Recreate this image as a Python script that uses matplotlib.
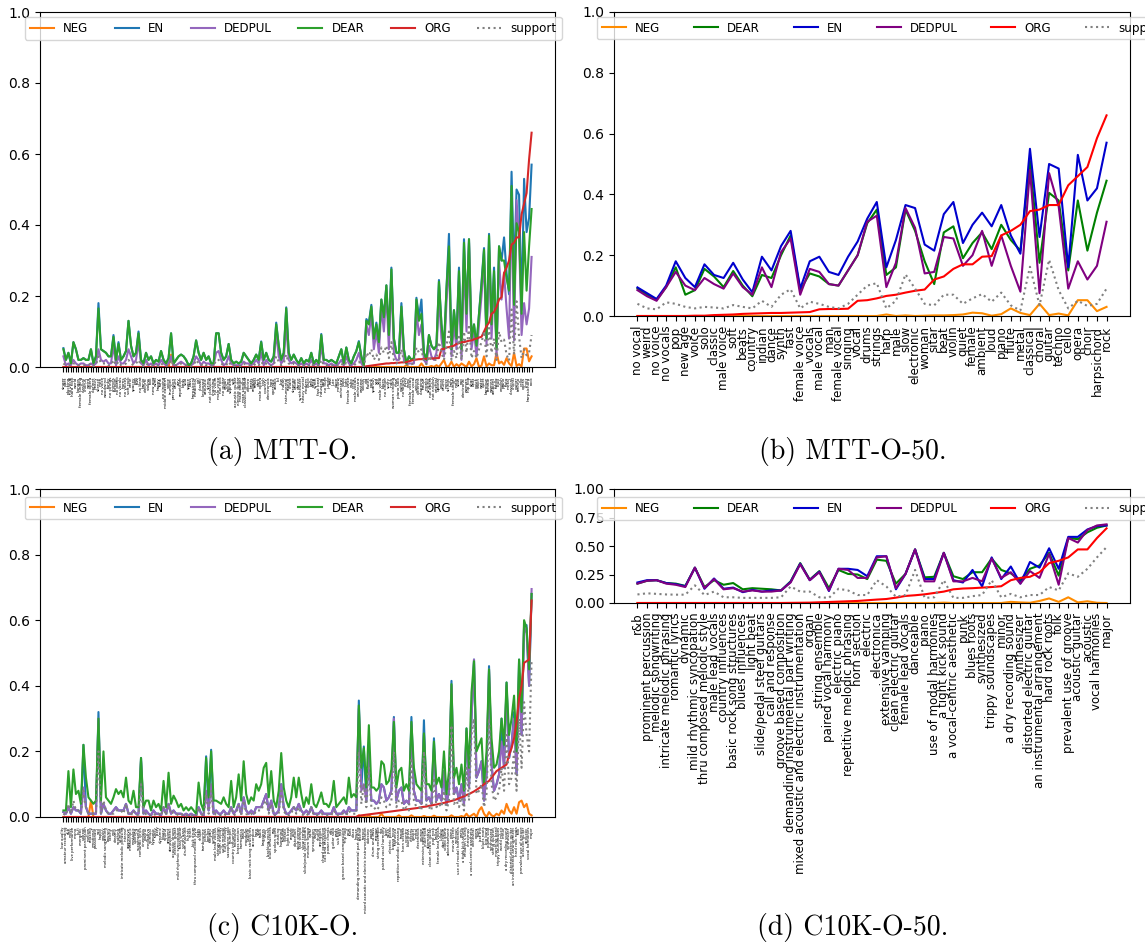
import matplotlib
matplotlib.use("Agg")
import matplotlib.pyplot as plt
import numpy as np

# ---------------------------------------------------------------- MTT-O (188 tags, sorted by ORG)
MTT_TAGS = [
    "singer", "duet", "plucking", "no vocal", "hard rock", "world", "bongos", "female singing", "clasical", "chorus",
    "weird", "female opera", "clarinet", "heavy", "silence", "men", "no voice", "woodwind", "funky", "no strings",
    "chimes", "foreign", "no piano", "no vocals", "horns", "no voices", "soft rock", "eerie", "spacey", "pop",
    "jazz", "no beat", "banjo", "electric", "violins", "folk", "new age", "wind", "happy", "funk",
    "no singing", "middle eastern", "voice", "trumpet", "percussion", "drum", "airy", "repetitive", "birds", "solo",
    "space", "bass", "harpsicord", "medieval", "girl", "classic", "keyboard", "acoustic", "string", "not classical",
    "chanting", "no violin", "male voice", "not rock", "no guitar", "organ", "talking", "soprano", "soft", "acoustic guitar",
    "electric guitar", "male singer", "man singing", "classical guitar", "electro", "beats", "reggae", "tribal", "dark", "male opera",
    "irish", "country", "electronica", "horn", "operatic", "arabic", "lol", "low", "indian", "instrumental",
    "trance", "chant", "strange", "drone", "dance", "synthesizer", "heavy metal", "modern", "disco", "bells",
    "deep", "synth", "fast beat", "industrial", "hard", "no flute", "jungle", "fast", "lute", "oboe",
    "mellow", "orchestral", "viola", "light", "female voice", "echo", "celtic", "male vocals", "orchestra", "eastern",
    "vocals", "old", "flutes", "punk", "spanish", "sad", "sax", "male vocal", "blues", "no singer",
    "scary", "india", "woman singing", "man", "piano solo", "guitars", "no drums", "jazzy", "calm", "female vocals",
    "female vocal", "voices", "different", "clapping", "house", "monks", "singing", "not opera", "not english", "oriental",
    "upbeat", "vocal", "drums", "noise", "strings", "harp", "female singer", "male", "slow", "rap",
    "electronic", "woman", "hip hop", "sitar", "beat", "quick", "violin", "water", "quiet", "baroque",
    "female", "women", "ambient", "fiddle", "loud", "english", "piano", "flute", "metal", "classical",
    "choral", "guitar", "techno", "cello", "opera", "choir", "harpsichord", "rock",
]

MTT_NEG = [
    0, 0, 0, 0, 0, 0, 0, 0, 0, 0,
    0, 0, 0, 0, 0, 0, 0, 0, 0, 0,
    0, 0, 0, 0, 0, 0, 0, 0, 0, 0,
    0, 0, 0, 0, 0, 0, 0, 0, 0, 0,
    0, 0, 0, .035, 0, 0, 0, 0, 0, 0,
    0, 0, 0, 0, 0, 0, 0, 0, 0, 0,
    0, 0, 0, 0, 0, 0, 0, 0, 0, 0,
    0, 0, 0, 0, 0, 0, 0, 0, 0, 0,
    0, 0, 0, 0, 0, 0, 0, 0, 0, 0,
    0, 0, 0, 0, 0, 0, 0, 0, 0, 0,
    0, 0, 0, 0, 0, 0, 0, 0, 0, 0,
    0, 0, 0, 0, 0, 0, 0, 0, 0, 0,
    0, 0, 0, 0, 0, 0, 0, 0, 0, 0,
    0, 0, 0, 0, 0, 0, 0, .005, 0, 0,
    0, 0, 0, .01, 0, 0, 0, .003, 0, .005,
    0, .01, .02, 0, .003, .015, 0, .008, .002, .01,
    .005, 0, .015, .002, .008, .025, 0, .004, .03, .002,
    .01, .005, .005, .04, .01, .015, .006, .025, .01, .003,
    .04, .003, .008, .002, .052, .052, .016, .03,
]
MTT_EN = [
    .053, .02, .04, .01, .07, .05, .02, .02, .025, .02,
    .02, .05, .01, .03, .18, .05, .045, .04, .03, .03,
    .09, .02, .07, .02, .03, .045, .13, .06, .03, .04,
    .10, .02, .01, .04, .02, .03, .01, .02, .015, .045,
    .02, .01, .025, .095, .01, .02, .03, .035, .03, .02,
    .005, .01, .03, .075, .04, .02, .04, .02, .03, .01,
    .01, .095, .095, .04, .02, .03, .065, .02, .01, .015,
    .01, .015, .04, .03, .02, .01, .02, .035, .02, .072,
    .02, .04, .02, .015, .03, .125, .06, .02, .04, .168,
    .04, .02, .035, .02, .01, .025, .01, .02, .015, .04,
    .01, .02, .01, .093, .02, .02, .015, .02, .015, .01,
    .03, .05, .01, .055, .02, .01, .03, .045, .073, .03,
    .005, .135, .125, .175, .08, .125, .07, .19, .145, .23,
    .09, .28, .08, .04, .04, .18, .05, .01, .03, .02,
    .025, .195, .14, .19, .04, .02, .09, .06, .05, .06,
    .245, .12, .05, .22, .375, .05, .16, .08, .28, .05,
    .36, .15, .36, .08, .12, .06, .15, .24, .335, .08,
    .375, .12, .28, .05, .34, .30, .365, .265, .205, .55,
    .26, .50, .485, .16, .53, .38, .42, .57,
]
MTT_DEDPUL = [
    .03, .005, .01, .005, .02, .01, .005, .01, .01, .005,
    .005, .01, .005, .01, .05, .02, .015, .02, .01, .01,
    .06, .005, .03, .01, .01, .02, .05, .03, .01, .02,
    .07, .01, .005, .02, .005, .01, .005, .01, .005, .02,
    .01, .005, .01, .03, .005, .005, .01, .015, .01, .005,
    0, .005, .01, .03, .02, .005, .015, .01, .01, .005,
    .005, .04, .045, .02, .005, .01, .03, .01, .005, .005,
    .005, .005, .015, .01, .01, .005, .01, .02, .01, .04,
    .005, .02, .01, .005, .01, .10, .03, .01, .02, .12,
    .02, .01, .015, .01, .005, .01, .005, .01, .005, .02,
    .005, .01, .005, .06, .01, .01, .005, .01, .005, .005,
    .01, .02, .005, .03, .01, .005, .01, .02, .04, .01,
    0, .12, .09, .15, .05, .10, .04, .17, .10, .21,
    .05, .25, .04, .02, .02, .15, .02, .01, .01, .01,
    .01, .16, .09, .12, .02, .01, .06, .03, .02, .04,
    .20, .08, .03, .18, .30, .03, .12, .05, .24, .02,
    .30, .10, .35, .05, .10, .03, .12, .20, .30, .06,
    .33, .08, .25, .03, .30, .19, .265, .165, .08, .48,
    .075, .47, .36, .09, .18, .12, .165, .31,
]
MTT_DEAR = [
    .05, .02, .04, .01, .07, .05, .02, .02, .025, .02,
    .02, .05, .01, .03, .165, .05, .045, .04, .03, .03,
    .085, .02, .065, .02, .03, .045, .13, .06, .03, .04,
    .095, .02, .01, .04, .02, .03, .01, .02, .015, .045,
    .02, .01, .025, .095, .01, .02, .03, .035, .03, .02,
    .005, .01, .03, .075, .04, .02, .04, .02, .03, .01,
    .01, .095, .095, .04, .02, .03, .065, .02, .01, .015,
    .01, .015, .04, .03, .02, .01, .02, .035, .02, .07,
    .02, .04, .02, .015, .03, .12, .06, .02, .04, .165,
    .04, .02, .035, .02, .01, .025, .01, .02, .015, .04,
    .01, .02, .01, .09, .02, .02, .015, .02, .015, .01,
    .03, .05, .01, .055, .02, .01, .03, .045, .07, .03,
    .005, .13, .12, .17, .08, .12, .07, .19, .14, .23,
    .09, .275, .08, .04, .04, .17, .05, .01, .03, .02,
    .025, .19, .13, .15, .04, .02, .09, .06, .05, .06,
    .24, .12, .05, .22, .34, .05, .16, .08, .27, .05,
    .35, .15, .36, .08, .12, .06, .15, .23, .33, .08,
    .37, .12, .27, .05, .34, .30, .30, .25, .215, .51,
    .175, .405, .38, .15, .38, .215, .34, .445,
]
MTT_ORG = [
    0, 0, 0, 0, 0, 0, 0, 0, 0, 0,
    0, 0, 0, 0, 0, 0, 0, 0, 0, 0,
    0, 0, 0, 0, 0, 0, 0, 0, 0, 0,
    0, 0, 0, 0, 0, 0, 0, 0, 0, 0,
    0, 0, 0, 0, 0, 0, 0, 0, 0, 0,
    0, 0, 0, 0, 0, 0, 0, 0, 0, 0,
    0, 0, 0, 0, 0, 0, 0, 0, 0, 0,
    0, 0, 0, 0, 0, 0, 0, 0, 0, 0,
    0, 0, 0, 0, 0, 0, 0, 0, 0, 0,
    0, 0, 0, 0, 0, 0, 0, 0, 0, 0,
    0, 0, 0, 0, 0, 0, 0, 0, 0, 0,
    0, 0, 0, 0, 0, 0, 0, 0, 0, 0,
    0, .002, .003, .004, .005, .006, .007, .008, .009, .01,
    .01, .011, .011, .012, .012, .013, .013, .014, .016, .018,
    .02, .021, .022, .022, .023, .023, .024, .024, .024, .025,
    .025, .05, .051, .055, .056, .058, .06, .065, .067, .07,
    .07, .072, .074, .075, .078, .08, .083, .085, .10, .115,
    .125, .15, .155, .17, .19, .197, .265, .28, .30, .345,
    .35, .365, .365, .43, .46, .49, .585, .66,
]
MTT_SUPPORT = [
    .01, .005, .005, .003, .01, .01, .005, .005, .005, .005,
    .005, .01, .003, .005, .03, .01, .01, .01, .005, .005,
    .02, .005, .015, .005, .005, .01, .02, .01, .005, .01,
    .02, .005, .003, .01, .005, .005, .003, .005, .003, .01,
    .005, .003, .005, .02, .003, .005, .005, .01, .005, .005,
    .002, .003, .005, .02, .01, .005, .01, .005, .005, .003,
    .003, .02, .02, .01, .005, .005, .015, .005, .003, .003,
    .003, .003, .01, .005, .005, .003, .005, .01, .005, .015,
    .005, .01, .005, .003, .005, .03, .015, .005, .01, .035,
    .01, .005, .01, .005, .003, .005, .003, .005, .003, .01,
    .003, .005, .003, .02, .005, .005, .003, .005, .003, .003,
    .005, .01, .003, .012, .005, .003, .005, .01, .015, .005,
    .002, .04, .03, .05, .02, .035, .02, .055, .04, .06,
    .025, .07, .02, .01, .015, .05, .015, .005, .01, .008,
    .01, .055, .04, .05, .015, .008, .03, .02, .02, .02,
    .07, .04, .02, .06, .10, .02, .045, .025, .085, .02,
    .10, .04, .12, .025, .045, .025, .05, .07, .10, .03,
    .11, .04, .08, .02, .10, .07, .077, .035, .018, .162,
    .035, .185, .085, .025, .05, .033, .04, .09,
]

# ---------------------------------------------------------------- MTT-O-50
MTT50_TAGS = [
    "no vocal", "weird", "no voice", "no vocals", "pop", "new age", "voice", "solo", "classic", "male voice",
    "soft", "beats", "country", "indian", "dance", "synth", "fast", "female voice", "vocals", "male vocal",
    "man", "female vocal", "singing", "vocal", "drums", "strings", "harp", "male", "slow", "electronic",
    "woman", "sitar", "beat", "violin", "quiet", "female", "ambient", "loud", "piano", "flute",
    "metal", "classical", "choral", "guitar", "techno", "cello", "opera", "choir", "harpsichord", "rock",
]
MTT50_NEG = [
    0, 0, 0, 0, 0, 0, 0, 0, 0, 0,
    0, 0, 0, 0, 0, 0, 0, 0, 0, 0,
    0, 0, 0, 0, 0, 0, .005, 0, .002, 0,
    .001, .002, .002, .003, .005, .011, .009, .001, .006, .025,
    .01, .003, .04, .003, .008, .002, .052, .052, .016, .03,
]
MTT50_DEAR = [
    .09, .07, .053, .095, .16, .07, .085, .155, .13, .095,
    .148, .10, .065, .135, .125, .20, .265, .085, .14, .13,
    .105, .10, .15, .20, .305, .35, .135, .16, .35, .28,
    .18, .105, .275, .295, .19, .24, .275, .22, .30, .25,
    .215, .51, .175, .405, .38, .15, .38, .215, .34, .445,
]
MTT50_EN = [
    .094, .075, .056, .10, .18, .125, .095, .17, .135, .125,
    .175, .12, .078, .195, .15, .23, .28, .09, .18, .195,
    .145, .135, .195, .245, .32, .375, .16, .25, .365, .355,
    .235, .215, .335, .375, .24, .30, .34, .295, .365, .265,
    .205, .55, .26, .50, .485, .16, .53, .38, .42, .57,
]
MTT50_DEDPUL = [
    .085, .065, .05, .095, .145, .10, .085, .125, .105, .09,
    .14, .095, .07, .16, .095, .21, .255, .07, .155, .145,
    .105, .10, .15, .20, .31, .33, .095, .175, .355, .29,
    .14, .145, .26, .255, .165, .20, .28, .165, .265, .165,
    .08, .48, .075, .47, .36, .09, .18, .12, .165, .31,
]
MTT50_ORG = [
    0, 0, 0, 0, 0, 0, .001, .001, .003, .004,
    .005, .007, .008, .009, .01, .01, .011, .012, .013, .022,
    .023, .023, .024, .05, .052, .058, .066, .07, .077, .083,
    .087, .12, .13, .155, .17, .17, .195, .197, .265, .28,
    .30, .345, .35, .365, .365, .43, .46, .49, .585, .66,
]
MTT50_SUPPORT = [
    .04, .025, .022, .045, .04, .03, .025, .03, .028, .025,
    .036, .03, .025, .05, .03, .07, .088, .025, .047, .04,
    .03, .025, .04, .07, .10, .108, .025, .05, .137, .09,
    .04, .035, .07, .07, .04, .058, .072, .047, .077, .035,
    .018, .162, .035, .185, .085, .025, .05, .033, .04, .09,
]

# ---------------------------------------------------------------- C10K-O (188 tags, sorted by ORG)
C10K_TAGS = [
    "low quality", "amateur recording", "r&b", "noisy", "live performance", "mono", "lo-fi", "energetic", "upbeat", "prominent percussion",
    "mellow", "relaxing", "emotional", "passionate", "sad", "happy", "groovy", "melodic songwriting", "bouncy", "catchy",
    "epic", "dreamy", "soothing", "calming", "intricate melodic phrasing", "intense", "aggressive", "melancholic", "nostalgic", "uplifting",
    "suspenseful", "romantic lyrics", "cinematic", "playful", "meditative", "spiritual", "hypnotic", "funky", "jazzy", "dynamic",
    "bluesy", "soulful", "ambient", "atmospheric", "acoustic drums", "electric guitar", "mild rhythmic syncopation", "bass guitar", "synth bass", "drum machine",
    "hi-hats", "snare", "kick drum", "thru composed melodic style", "claps", "shaker", "tambourine", "congas", "bongos", "timpani",
    "cymbals", "male lead vocals", "strings section", "violin melody", "cello melody", "flute melody", "saxophone solo", "trumpet", "country influences", "trombone",
    "brass section", "harmonica", "banjo", "mandolin", "ukulele", "basic rock song structures", "accordion", "harp", "sitar", "tabla",
    "bagpipes", "choir", "backing vocals", "blues influences", "rap", "spoken word", "whistling", "humming", "falsetto", "vibrato",
    "light beat", "reverb", "echo", "distortion", "wide stereo", "fast tempo", "slow tempo", "slide/pedal steel guitars", "medium tempo", "waltz",
    "syncopation", "swing", "shuffle", "arpeggios", "chord progression", "call and response", "power chords", "riffs", "guitar solo", "pads",
    "sub bass", "trap", "groove based composition", "hip hop", "soul", "funk", "disco", "house", "demanding instrumental part writing", "techno",
    "trance", "mixed acoustic and electric instrumentation", "dubstep", "organ", "drum and bass", "reggae", "string ensemble", "ska", "paired vocal harmony", "latin",
    "salsa", "electric piano", "bossa nova", "flamenco", "repetitive melodic phrasing", "tango", "horn section", "country", "bluegrass", "electric",
    "gospel", "metal", "electronica", "grunge", "extensive vamping", "indie rock", "alternative", "clean electric guitar", "pop rock", "ballad",
    "female lead vocals", "lullaby", "danceable", "video game", "advertisement", "piano", "movie scene", "workout", "use of modal harmonies", "party",
    "a tight kick sound", "children's song", "christmas", "a vocal-centric aesthetic", "orchestral", "opera", "punk", "jazz trio", "blues roots", "big band",
    "piano solo", "synthesized", "string quartet", "marching band", "trippy soundscapes", "world music", "minor", "a dry recording sound", "synthesizer", "distorted electric guitar",
    "an instrumental arrangement", "hard rock roots", "folk", "prevalent use of groove", "acoustic guitar", "acoustic", "vocal harmonies", "major",
]

C10K_NEG = [
    0, 0, 0, 0, 0, 0, 0, 0, 0, 0,
    0, .05, 0, 0, 0, 0, 0, 0, 0, 0,
    0, 0, 0, 0, 0, 0, 0, 0, 0, 0,
    0, 0, 0, 0, 0, 0, 0, 0, 0, 0,
    0, 0, 0, 0, 0, 0, 0, 0, 0, 0,
    0, 0, 0, 0, 0, 0, 0, 0, 0, 0,
    0, 0, 0, 0, 0, 0, 0, 0, 0, 0,
    0, 0, 0, 0, 0, 0, 0, 0, 0, 0,
    0, 0, 0, 0, 0, 0, 0, 0, 0, 0,
    0, 0, 0, 0, 0, 0, 0, 0, 0, 0,
    0, 0, 0, 0, 0, 0, 0, 0, 0, 0,
    0, 0, 0, 0, 0, 0, 0, 0, .005, 0,
    0, 0, .005, 0, 0, 0, 0, .01, 0, 0,
    0, 0, 0, 0, .005, 0, 0, 0, 0, .005,
    0, 0, 0, 0, .003, 0, 0, 0, .004, 0,
    0, 0, 0, 0, 0, .005, 0, 0, 0, .003,
    0, .01, 0, .005, .01, 0, .02, .03, .01, 0,
    .015, .005, .002, .01, .005, .02, .01, .04, .02, .01,
    .03, .01, .045, .05, .03, .04, .01, .005,
]
C10K_EN = [
    .015, .01, .03, .01, .03, .02, .02, .01, .22, .03,
    .01, .01, .01, .01, .32, .01, .04, .02, .01, .01,
    .02, .03, .02, .02, .02, .04, .01, .01, .02, .01,
    .01, .18, .01, .02, .01, .005, .02, .01, .01, .005,
    .03, .01, .04, .01, .02, .01, .01, .01, .005, .01,
    .005, .01, .005, .005, .03, .01, .005, .185, .02, .205,
    .01, .02, .01, .01, .02, .01, .01, .03, .01, .02,
    .04, .01, .06, .02, .01, .02, .01, .03, .03, .03,
    .05, .07, .02, .05, .01, .01, .02, .10, .03, .01,
    .01, .02, .03, .02, .04, .02, .01, .02, .01, .03,
    .01, .01, .01, .02, .01, .01, .01, .01, .03, .01,
    .01, .01, .02, .01, .03, .02, .02, .02, .355, .09,
    .215, .05, .20, .05, .05, .04, .05, .10, .09, .05,
    .06, .08, .305, .05, .08, .09, .04, .05, .04, .305,
    .08, .05, .05, .04, .295, .05, .06, .04, .24, .05,
    .07, .05, .14, .04, .08, .415, .07, .09, .05, .10,
    .04, .27, .09, .305, .48, .12, .14, .17, .05, .13,
    .46, .16, .08, .10, .13, .30, .15, .41, .18, .22,
    .32, .13, .48, .25, .585, .585, .40, .68,
]
C10K_DEDPUL = [
    .015, .01, .03, .01, .03, .02, .02, .01, .09, .03,
    .01, .01, .01, .01, .30, .01, .04, .02, .01, .01,
    .02, .03, .02, .02, .02, .04, .01, .01, .02, .01,
    .01, .17, .01, .02, .01, .005, .02, .01, .01, .005,
    .03, .01, .04, .01, .02, .01, .01, .01, .005, .01,
    .005, .01, .005, .005, .03, .01, .005, .08, .02, .10,
    .01, .02, .01, .01, .02, .01, .01, .03, .01, .02,
    .04, .01, .06, .02, .01, .02, .01, .03, .03, .03,
    .05, .07, .02, .05, .01, .01, .02, .10, .03, .01,
    .01, .02, .03, .02, .04, .02, .01, .02, .01, .03,
    .01, .01, .01, .02, .01, .01, .01, .01, .03, .01,
    .01, .01, .02, .01, .03, .02, .02, .02, .33, .08,
    .10, .05, .20, .05, .05, .04, .05, .10, .09, .05,
    .06, .08, .30, .05, .08, .09, .04, .05, .04, .28,
    .08, .05, .05, .04, .25, .05, .06, .04, .21, .05,
    .07, .05, .14, .04, .08, .40, .07, .09, .05, .10,
    .04, .26, .09, .30, .48, .12, .14, .17, .05, .13,
    .45, .16, .08, .10, .13, .23, .15, .40, .18, .22,
    .30, .13, .44, .25, .58, .56, .40, .695,
]
C10K_DEAR = [
    .02, .02, .14, .03, .145, .07, .08, .04, .22, .12,
    .06, .05, .04, .05, .30, .05, .20, .06, .05, .04,
    .06, .085, .07, .08, .06, .12, .05, .04, .08, .03,
    .03, .18, .03, .05, .05, .02, .05, .03, .04, .02,
    .11, .03, .135, .04, .065, .05, .03, .04, .02, .03,
    .02, .03, .02, .01, .105, .04, .02, .18, .06, .20,
    .05, .05, .045, .04, .06, .04, .03, .11, .03, .06,
    .13, .05, .17, .07, .04, .06, .05, .10, .08, .10,
    .15, .165, .06, .14, .05, .03, .08, .195, .09, .05,
    .03, .06, .12, .06, .12, .07, .03, .06, .04, .10,
    .04, .03, .05, .075, .04, .04, .03, .05, .11, .03,
    .04, .05, .06, .04, .12, .06, .07, .06, .34, .15,
    .21, .09, .28, .09, .09, .08, .09, .17, .16, .10,
    .11, .145, .29, .09, .14, .15, .08, .10, .08, .29,
    .15, .10, .09, .08, .255, .10, .10, .08, .23, .10,
    .12, .09, .20, .07, .14, .405, .12, .15, .10, .16,
    .08, .27, .15, .38, .475, .20, .22, .24, .10, .20,
    .45, .24, .15, .16, .20, .30, .22, .41, .25, .30,
    .37, .20, .48, .32, .60, .575, .45, .68,
]
C10K_ORG = [
    0, 0, 0, 0, 0, 0, 0, 0, 0, 0,
    0, 0, 0, 0, 0, 0, 0, 0, 0, 0,
    0, 0, 0, 0, 0, 0, 0, 0, 0, 0,
    0, 0, 0, 0, 0, 0, 0, 0, 0, 0,
    0, 0, 0, 0, 0, 0, 0, 0, 0, 0,
    0, 0, 0, 0, 0, 0, 0, 0, 0, 0,
    0, 0, 0, 0, 0, 0, 0, 0, 0, 0,
    0, 0, 0, 0, 0, 0, 0, 0, 0, 0,
    0, 0, 0, 0, 0, 0, 0, 0, 0, 0,
    0, 0, 0, 0, 0, 0, 0, 0, 0, 0,
    0, 0, 0, 0, 0, 0, 0, 0, 0, 0,
    0, 0, 0, 0, 0, 0, 0, 0, .004, .005,
    .006, .007, .008, .009, .01, .011, .012, .013, .014, .015,
    .016, .017, .018, .019, .02, .021, .022, .023, .024, .025,
    .026, .027, .028, .03, .031, .032, .034, .035, .037, .038,
    .04, .041, .043, .045, .047, .049, .051, .054, .057, .06,
    .063, .067, .07, .074, .078, .083, .088, .093, .10, .105,
    .11, .12, .13, .14, .145, .15, .155, .16, .19, .21,
    .24, .29, .36, .40, .47, .475, .48, .66,
]
C10K_SUPPORT = [
    .01, .005, .04, .01, .05, .02, .02, .01, .08, .03,
    .01, .01, .01, .01, .20, .01, .05, .02, .01, .01,
    .01, .02, .02, .02, .01, .04, .01, .005, .02, .005,
    .005, .10, .005, .01, .01, .003, .01, .005, .01, .003,
    .03, .005, .04, .01, .015, .01, .005, .01, .003, .005,
    .003, .005, .003, .002, .03, .01, .003, .07, .01, .08,
    .005, .01, .005, .005, .01, .005, .005, .03, .005, .01,
    .035, .005, .05, .01, .005, .01, .005, .02, .02, .02,
    .04, .05, .01, .04, .005, .005, .01, .08, .02, .005,
    .005, .01, .03, .01, .03, .01, .005, .01, .005, .03,
    .005, .005, .005, .01, .005, .005, .005, .005, .02, .005,
    .005, .01, .01, .005, .02, .01, .01, .01, .20, .04,
    .10, .03, .15, .03, .03, .02, .03, .06, .05, .03,
    .03, .05, .20, .03, .05, .05, .02, .03, .02, .18,
    .05, .03, .03, .02, .20, .03, .03, .02, .12, .03,
    .04, .03, .08, .02, .05, .28, .04, .05, .03, .06,
    .02, .15, .05, .25, .30, .07, .08, .10, .03, .07,
    .30, .10, .05, .06, .08, .15, .08, .25, .10, .12,
    .20, .08, .30, .15, .35, .25, .20, .48,
]

# ---------------------------------------------------------------- C10K-O-50
C10K50_TAGS = [
    "r&b", "prominent percussion", "melodic songwriting", "intricate melodic phrasing", "romantic lyrics",
    "dynamic", "mild rhythmic syncopation", "thru composed melodic style", "male lead vocals", "country influences",
    "basic rock song structures", "blues influences", "light beat", "slide/pedal steel guitars", "call and response",
    "groove based composition", "demanding instrumental part writing", "mixed acoustic and electric instrumentation", "organ", "string ensemble",
    "paired vocal harmony", "electric piano", "repetitive melodic phrasing", "horn section", "electric",
    "electronica", "extensive vamping", "clean electric guitar", "female lead vocals", "danceable",
    "piano", "use of modal harmonies", "a tight kick sound", "a vocal-centric aesthetic", "punk",
    "blues roots", "synthesized", "trippy soundscapes", "minor", "a dry recording sound",
    "synthesizer", "distorted electric guitar", "an instrumental arrangement", "hard rock roots", "folk",
    "prevalent use of groove", "acoustic guitar", "acoustic", "vocal harmonies", "major",
]
C10K50_NEG = [
    0, 0, 0, 0, 0, 0, 0, 0, 0, 0,
    0, 0, 0, 0, 0, 0, 0, 0, 0, 0,
    0, 0, 0, 0, 0, 0, 0, 0, 0, 0,
    0, 0, .003, 0, 0, 0, 0, 0, 0, .01,
    .005, .002, .018, .04, .01, .05, .005, .015, .002, 0,
]
C10K50_DEAR = [
    .17, .195, .20, .175, .17, .15, .31, .14, .20, .16,
    .175, .12, .13, .125, .12, .11, .19, .35, .205, .28,
    .13, .29, .255, .25, .21, .38, .37, .17, .255, .47,
    .225, .23, .44, .235, .21, .27, .27, .39, .29, .26,
    .20, .30, .33, .44, .24, .57, .56, .62, .66, .68,
]
C10K50_EN = [
    .18, .20, .20, .175, .165, .147, .31, .125, .215, .125,
    .135, .095, .115, .10, .11, .11, .185, .345, .20, .275,
    .105, .30, .30, .29, .235, .41, .41, .12, .255, .47,
    .21, .21, .44, .20, .18, .29, .145, .40, .21, .32,
    .17, .36, .31, .48, .30, .58, .58, .645, .675, .68,
]
C10K50_DEDPUL = [
    .17, .195, .20, .17, .16, .14, .31, .13, .21, .12,
    .13, .10, .11, .10, .10, .11, .18, .34, .20, .27,
    .11, .30, .29, .22, .22, .40, .41, .13, .255, .47,
    .19, .19, .44, .19, .19, .22, .19, .39, .22, .27,
    .17, .28, .22, .43, .16, .57, .53, .64, .68, .69,
]
C10K50_ORG = [
    0, 0, 0, 0, 0, 0, 0, 0, 0, 0,
    0, 0, 0, 0, 0, 0, .001, .002, .003, .006,
    .009, .012, .015, .018, .024, .03, .035, .047, .062, .068,
    .076, .088, .10, .12, .127, .13, .135, .14, .147, .20,
    .22, .23, .27, .35, .37, .40, .47, .47, .57, .655,
]
C10K50_SUPPORT = [
    .075, .085, .08, .075, .073, .073, .155, .07, .10, .05,
    .05, .045, .045, .045, .045, .05, .145, .10, .10, .05,
    .045, .125, .11, .07, .07, .20, .145, .055, .07, .29,
    .045, .05, .20, .045, .045, .06, .07, .20, .05, .08,
    .05, .07, .07, .14, .11, .26, .23, .30, .40, .49,
]

# ---------------------------------------------------------------- styling
DENSE_COLORS = {"NEG": "tab:orange", "EN": "tab:blue", "DEDPUL": "tab:purple",
                "DEAR": "tab:green", "ORG": "tab:red", "support": "gray"}
TOP50_COLORS = {"NEG": "darkorange", "DEAR": "green", "EN": "mediumblue",
                "DEDPUL": "purple", "ORG": "red", "support": "gray"}

W, H = 1145, 943
fig = plt.figure(figsize=(W / 100, H / 100), dpi=100)


def px_axes(left, top, right, bottom):
    return fig.add_axes([left / W, 1 - bottom / H, (right - left) / W, (bottom - top) / H])


def draw_panel(ax, tags, series, colors, label_size, legend_anchor, colspace):
    x = np.arange(len(tags))
    for name, vals in series:
        ax.plot(x, vals, ":" if name == "support" else "-",
                color=colors[name], lw=1.5, label=name)
    ax.set_ylim(0, 1)
    ax.set_xticks(x)
    ax.set_xticklabels(tags, rotation=90, fontsize=label_size)
    ax.tick_params(axis="y", labelsize=10)
    ax.legend(loc="upper left", bbox_to_anchor=legend_anchor, borderaxespad=0,
              ncol=6, fontsize=8.6, columnspacing=colspace)


ax_a = px_axes(40, 12, 555, 367)
draw_panel(ax_a, MTT_TAGS,
           [("NEG", MTT_NEG), ("EN", MTT_EN), ("DEDPUL", MTT_DEDPUL),
            ("DEAR", MTT_DEAR), ("ORG", MTT_ORG), ("support", MTT_SUPPORT)],
           DENSE_COLORS, 3.0, (-0.029, 0.986), 2.2)

ax_b = px_axes(614, 12, 1130, 316)
draw_panel(ax_b, MTT50_TAGS,
           [("NEG", MTT50_NEG), ("DEAR", MTT50_DEAR), ("EN", MTT50_EN),
            ("DEDPUL", MTT50_DEDPUL), ("ORG", MTT50_ORG), ("support", MTT50_SUPPORT)],
           TOP50_COLORS, 8.5, (-0.033, 0.984), 2.8)

ax_c = px_axes(40, 489, 555, 817)
draw_panel(ax_c, C10K_TAGS,
           [("NEG", C10K_NEG), ("EN", C10K_EN), ("DEDPUL", C10K_DEDPUL),
            ("DEAR", C10K_DEAR), ("ORG", C10K_ORG), ("support", C10K_SUPPORT)],
           DENSE_COLORS, 2.8, (-0.029, 0.976), 2.2)

ax_d = px_axes(614, 489, 1130, 603)
draw_panel(ax_d, C10K50_TAGS,
           [("NEG", C10K50_NEG), ("DEAR", C10K50_DEAR), ("EN", C10K50_EN),
            ("DEDPUL", C10K50_DEDPUL), ("ORG", C10K50_ORG), ("support", C10K50_SUPPORT)],
           TOP50_COLORS, 8.5, (-0.033, 0.93), 2.8)

# sub-figure captions
cap = dict(ha="center", va="center", fontsize=20, family="cmr10")
fig.text(283 / W, 1 - 452 / H, "(a) MTT-O.", **cap)
fig.text(853 / W, 1 - 452 / H, "(b) MTT-O-50.", **cap)
fig.text(283 / W, 1 - 928 / H, "(c) C10K-O.", **cap)
fig.text(853 / W, 1 - 928 / H, "(d) C10K-O-50.", **cap)

fig.savefig("out.png", dpi=100)
